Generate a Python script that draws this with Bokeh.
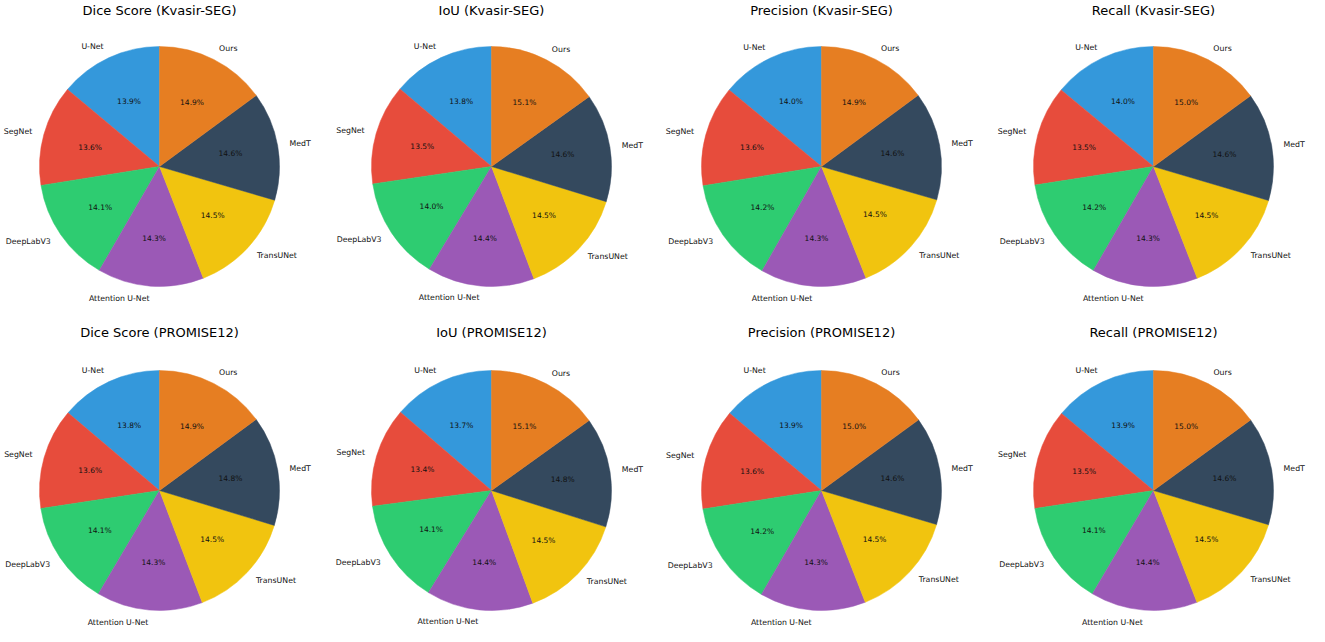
import math
from bokeh.plotting import figure
from bokeh.layouts import gridplot
from bokeh.models import Range1d, ColumnDataSource
from bokeh.core.properties import value
from bokeh.embed import file_html
from bokeh.resources import INLINE

# ---------------- data ----------------
methods = ["U-Net", "SegNet", "DeepLabV3", "Attention U-Net", "TransUNet", "MedT", "Ours"]
colors = ["#3498db", "#e74c3c", "#2ecc71", "#9b59b6", "#f1c40f", "#34495e", "#e67e22"]

dice_kvasir = [13.9, 13.6, 14.1, 14.3, 14.5, 14.6, 14.9]
iou_kvasir = [13.8, 13.5, 14.0, 14.4, 14.5, 14.6, 15.1]
precision_kvasir = [14.0, 13.6, 14.2, 14.3, 14.5, 14.6, 14.9]
recall_kvasir = [14.0, 13.5, 14.2, 14.3, 14.5, 14.6, 15.0]
dice_promise = [13.8, 13.6, 14.1, 14.3, 14.5, 14.8, 14.9]
iou_promise = [13.7, 13.4, 14.1, 14.4, 14.5, 14.8, 15.1]
precision_promise = [13.9, 13.6, 14.2, 14.3, 14.5, 14.6, 15.0]
recall_promise = [13.9, 13.5, 14.1, 14.4, 14.5, 14.6, 15.0]

row_titles = [
    ["Dice Score (Kvasir-SEG)", "IoU (Kvasir-SEG)", "Precision (Kvasir-SEG)", "Recall (Kvasir-SEG)"],
    ["Dice Score (PROMISE12)", "IoU (PROMISE12)", "Precision (PROMISE12)", "Recall (PROMISE12)"],
]
row_values = [
    [dice_kvasir, iou_kvasir, precision_kvasir, recall_kvasir],
    [dice_promise, iou_promise, precision_promise, recall_promise],
]

# ---------------- layout ----------------
W, H = 327, 313
R = 120
col_cx = [159, 164, 167, 172]      # pie centre offset from left of each figure (px)
row_cy = [166, 177]                # pie centre offset from top of each figure (px)
row_title_off = [156, 158.5]       # title height above pie centre
FONT = "DejaVu Sans"


def make_pie(vals, title, cx, cy, toff):
    p = figure(width=W, height=H, output_backend="svg", toolbar_location=None,
               x_range=Range1d(-cx, W - cx), y_range=Range1d(-(H - cy), cy),
               x_axis_location=None, y_axis_location=None, min_border=0,
               tools="")
    p.grid.visible = False
    p.outline_line_color = None
    p.background_fill_color = "white"
    p.border_fill_color = "white"

    total = float(sum(vals))
    starts, ends, mids = [], [], []
    a = math.pi / 2
    for v in vals:
        span = 2 * math.pi * v / total
        starts.append(a)
        ends.append(a + span)
        mids.append(a + span / 2)
        a += span

    lx = [1.1 * R * math.cos(m) for m in mids]
    ly = [1.1 * R * math.sin(m) for m in mids]
    align = ["left" if x > 0 else "right" for x in lx]
    px = [0.6 * R * math.cos(m) for m in mids]
    py = [0.6 * R * math.sin(m) for m in mids]
    pct = [f"{v:.1f}%" for v in vals]

    src = ColumnDataSource(dict(start=starts, end=ends, color=colors, name=methods,
                                lx=lx, ly=ly, align=align, px=px, py=py, pct=pct))
    p.wedge(x=0, y=0, radius=R, start_angle="start", end_angle="end",
            fill_color="color", line_color="color", line_width=0.5, source=src)
    p.text(x="lx", y="ly", text="name", text_align="align", text_baseline="middle",
           text_font=value(FONT), text_font_size="7.8px", text_color="#111111", source=src)
    p.text(x="px", y="py", text="pct", text_align="center", text_baseline="middle",
           text_font=value(FONT), text_font_size="7.5px", text_color="#111111", source=src)
    p.text(x=[0], y=[toff], text=[title], text_align="center", text_baseline="middle",
           text_font=value(FONT), text_font_size="13px", text_color="black")
    return p


rows = []
for r in range(2):
    row = []
    for c in range(4):
        row.append(make_pie(row_values[r][c], row_titles[r][c], col_cx[c], row_cy[r], row_title_off[r]))
    rows.append(row)

grid = gridplot(rows, toolbar_location=None)
open("out.html", "w").write(file_html(grid, INLINE))
